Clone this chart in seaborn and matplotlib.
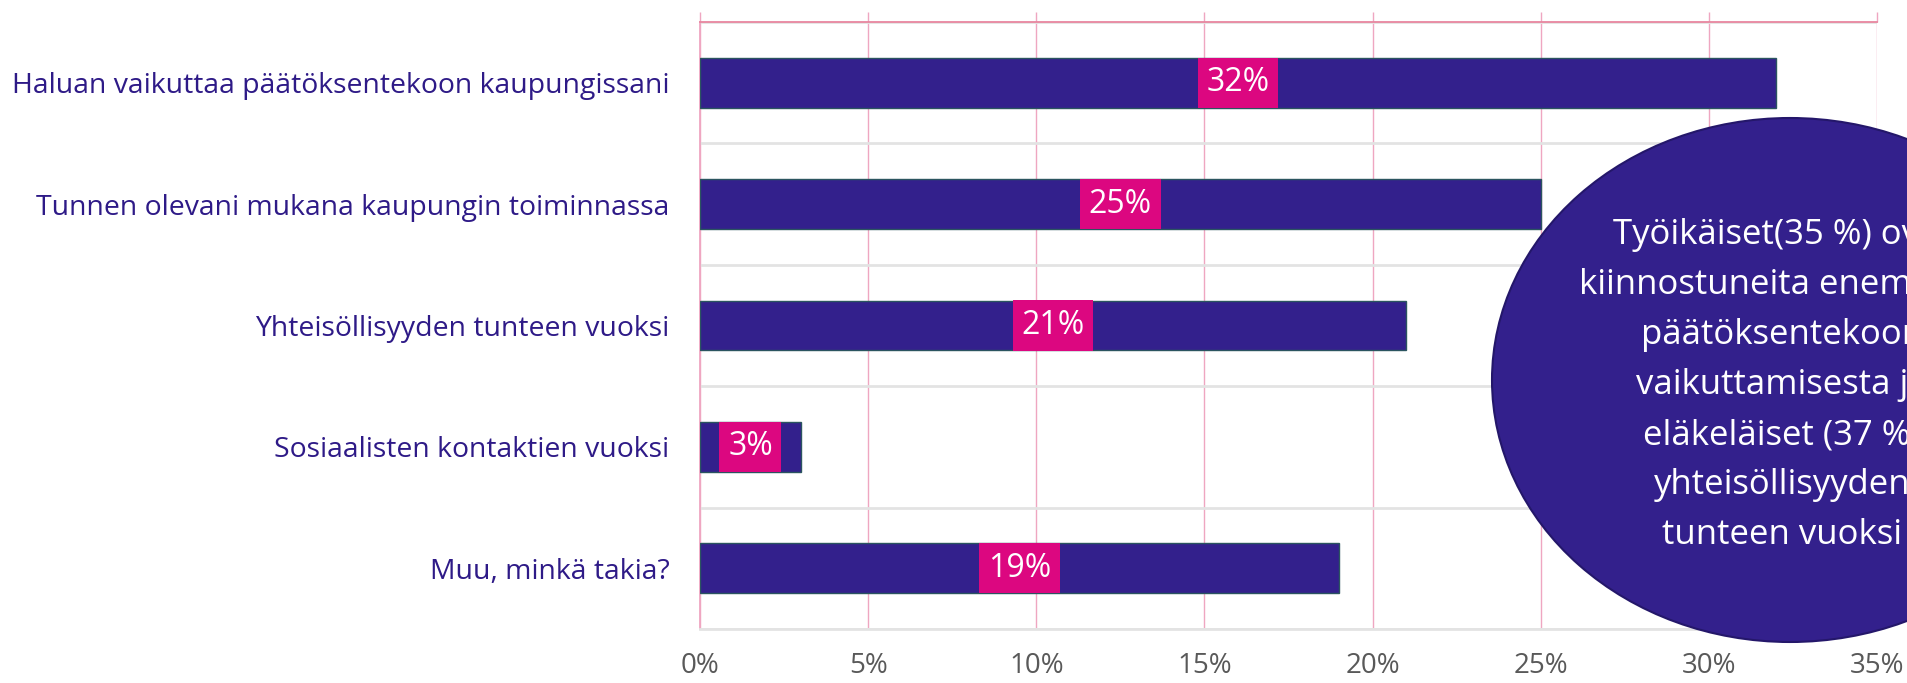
import seaborn as sns
import pandas as pd
import matplotlib.pyplot as plt
from matplotlib.patches import Ellipse
from matplotlib.ticker import FixedLocator

# data
categories = [
    "Haluan vaikuttaa päätöksentekoon kaupungissani",
    "Tunnen olevani mukana kaupungin toiminnassa",
    "Yhteisöllisyyden tunteen vuoksi",
    "Sosiaalisten kontaktien vuoksi",
    "Muu, minkä takia?",
]
shares = [32, 25, 21, 3, 19]
x_ticks = [0, 5, 10, 15, 20, 25, 30, 35]
note_lines = [
    "Työikäiset(35 %) ovat",
    "kiinnostuneita enemmän",
    "päätöksentekoon",
    "vaikuttamisesta ja",
    "eläkeläiset (37 %)",
    "yhteisöllisyyden",
    "tunteen vuoksi",
]

INDIGO = "#33208C"
MAGENTA = "#DC0780"
PINK = "#EFA6C1"
GRAY_LINE = "#E3E3E3"

sns.set_style("white")
plt.rcParams["font.family"] = ["Open Sans", "DejaVu Sans"]

df = pd.DataFrame({"category": categories, "share": shares})

fig = plt.figure(figsize=(19.07, 6.83), dpi=100)
ax = fig.add_axes([700 / 1907, 1 - 629 / 683, 1177 / 1907, 607 / 683])

sns.barplot(data=df, x="share", y="category", orient="h", color=INDIGO,
            saturation=1, width=0.41, edgecolor="#2B5560", linewidth=1,
            ax=ax, zorder=3)

ax.set_xlim(0, 35)
ax.set_ylim(len(categories) - 0.5, -0.5)
ax.set_xlabel("")
ax.set_ylabel("")

# x axis: pink gridlines, marks on top, labels at bottom
ax.set_xticks(x_ticks)
ax.set_xticklabels([f"{t}%" for t in x_ticks], fontsize=20, color="#595959")
ax.tick_params(axis="x", top=True, bottom=False, labeltop=False, labelbottom=True,
               direction="out", length=7.5, width=1, color=PINK, pad=9)
ax.grid(axis="x", color=PINK, lw=1, zorder=0)

# y axis: category boundaries as minor ticks / gray lines
ax.yaxis.set_minor_locator(FixedLocator([i - 0.5 for i in range(len(categories) + 1)]))
ax.tick_params(axis="y", which="major", length=0, pad=22, labelsize=20.4,
               labelcolor="#2E1A87")
ax.tick_params(axis="y", which="minor", length=8, width=1.2, color=PINK, direction="out")
ax.grid(axis="y", which="minor", color=GRAY_LINE, lw=2, zorder=0)
ax.grid(axis="y", which="major", visible=False)

for side in ["left", "top"]:
    ax.spines[side].set_color(PINK)
    ax.spines[side].set_linewidth(1.3)
ax.spines["top"].set_color("#E8869F")
ax.spines["right"].set_visible(False)
ax.spines["bottom"].set_color(GRAY_LINE)
ax.spines["bottom"].set_linewidth(2)

# value labels in magenta boxes at bar middle
for i, v in enumerate(shares):
    ax.text(v / 2, i, f"{v}%", ha="center", va="center", color="white", fontsize=23,
            zorder=5, bbox=dict(boxstyle="square,pad=0.27", fc=MAGENTA, ec="none"))

# callout ellipse, partly outside the figure
ov = fig.add_axes([0, 0, 1, 1], zorder=10)
ov.set_xlim(0, 1907)
ov.set_ylim(683, 0)
ov.axis("off")
ov.add_patch(Ellipse((1790, 380), 596, 524, fc=INDIGO, ec="#24176A", lw=1.5))
for k, line in enumerate(note_lines):
    ov.text(1782, 244 + k * 50, line, ha="center", va="baseline", color="white",
            fontsize=25)

fig.savefig("out.png", dpi=100, facecolor="white")
